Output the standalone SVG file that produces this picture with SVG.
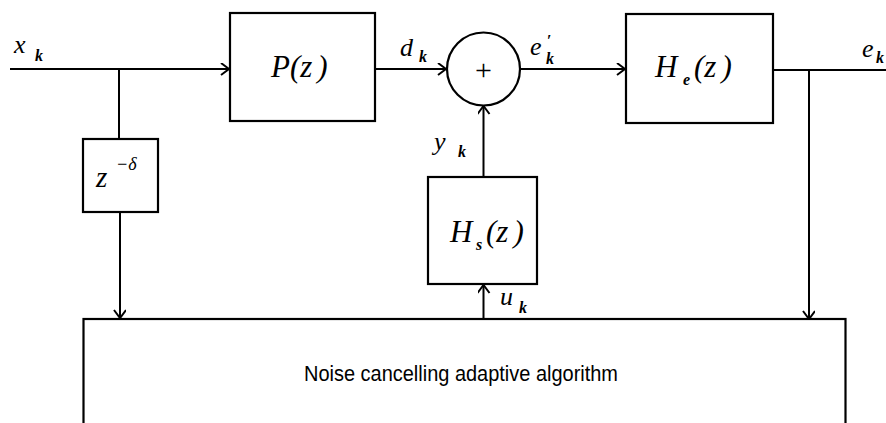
<svg xmlns="http://www.w3.org/2000/svg" width="886" height="423" viewBox="0 0 886 423">
<style>
.box{fill:#fff;stroke:#000;stroke-width:2.2}
.ln{fill:none;stroke:#000;stroke-width:2}
.m{font-family:"Liberation Serif","Times New Roman",serif;font-style:italic;fill:#000}
.big{font-size:31px}
.var{font-size:26px}
.sub{font-size:16px;font-weight:bold}
.up{font-family:"Liberation Serif","Times New Roman",serif;font-style:normal}
.sans{font-family:"Liberation Sans",Arial,sans-serif;font-size:22px;fill:#000}
</style>
<defs>
<marker id="arr" markerUnits="userSpaceOnUse" markerWidth="12" markerHeight="14" refX="9" refY="6" orient="auto">
<path d="M1,0 L9,6 L1,12" fill="none" stroke="#000" stroke-width="2"/>
</marker>
</defs>
<rect width="886" height="423" fill="#fff"/>
<g id="connectors">
<path class="ln" d="M10,69 H229" marker-end="url(#arr)"/>
<path class="ln" d="M119,69 V139"/>
<path class="ln" d="M120,212 V318" marker-end="url(#arr)"/>
<path class="ln" d="M375,69 H446" marker-end="url(#arr)"/>
<path class="ln" d="M520,69 H625" marker-end="url(#arr)"/>
<path class="ln" d="M483.5,177 V106" marker-end="url(#arr)"/>
<path class="ln" d="M483.5,319 V285" marker-end="url(#arr)"/>
<path class="ln" d="M773,70 H886"/>
<path class="ln" d="M809,70 V319" marker-end="url(#arr)"/>
</g>
<g id="node-algorithm">
<rect class="box" x="83.5" y="319" width="762" height="130"/>
<text class="sans" x="304" y="381" textLength="314" lengthAdjust="spacingAndGlyphs">Noise cancelling adaptive algorithm</text>
</g>
<g id="node-P">
<rect class="box" x="230" y="13" width="145" height="108"/>
<text class="m big" x="271" y="77">P(z<tspan dx="5">)</tspan></text>
</g>
<g id="node-delay">
<rect class="box" x="83" y="139" width="75" height="73"/>
<text class="m" font-size="29" x="96" y="187">z</text>
<text class="m" font-size="18" x="116" y="170">−δ</text>
</g>
<g id="node-sum">
<circle class="box" cx="483.5" cy="69" r="36.5"/>
<text class="up" x="483.5" y="80" font-size="30" text-anchor="middle">+</text>
</g>
<g id="node-Hs">
<rect class="box" x="428" y="177" width="109" height="107"/>
<text class="m big" x="450" y="242">H</text>
<text class="m sub" x="476" y="250">s</text>
<text class="m big" x="486" y="242">(z<tspan dx="5">)</tspan></text>
</g>
<g id="node-He">
<rect class="box" x="626" y="14" width="147" height="109"/>
<text class="m big" x="655" y="77">H</text>
<text class="m sub" x="683" y="85">e</text>
<text class="m big" x="694" y="77">(z<tspan dx="5">)</tspan></text>
</g>
<g id="labels">
<text class="m var" x="14" y="53">x</text>
<text class="m sub" x="35" y="61">k</text>
<text class="m var" x="400" y="56">d</text>
<text class="m sub" x="419" y="62">k</text>
<text class="m var" x="530" y="55">e</text>
<text class="up" font-size="16" font-weight="bold" x="547" y="46">′</text>
<text class="m sub" font-size="15" x="546" y="64">k</text>
<text class="m var" x="434" y="150">y</text>
<text class="m sub" x="458" y="157">k</text>
<text class="m var" x="500" y="305">u</text>
<text class="m sub" x="519" y="313">k</text>
<text class="m var" x="862" y="57">e</text>
<text class="m sub" font-size="13" x="876" y="63">k</text>
</g>
</svg>
